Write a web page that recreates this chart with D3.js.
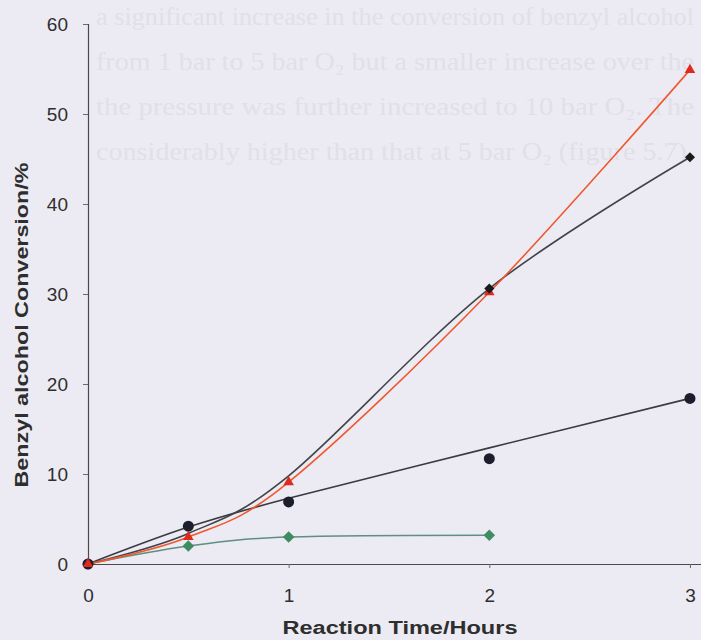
<!DOCTYPE html>
<html>
<head>
<meta charset="utf-8">
<script src="https://cdn.jsdelivr.net/npm/d3@7"></script>
<style>
  body { margin: 0; background: #ecebf3; }
  svg { display: block; }
</style>
</head>
<body>
<script>
// reaction time (hours)
const times = [0, 0.5, 1, 2, 3];
const timesShort = [0, 0.5, 1, 2];

// benzyl alcohol conversion (%)
const triangleSeries = [0, 3.0, 9.1, 30.2, 54.9];
const diamondSeries = [0, 3.4, 9.8, 30.6, 45.2];
const circleSeries = [0, 4.2, 6.9, 11.7, 18.4];
const circleTrend = [0, 4.1, 7.3, 12.9, 18.4];
const greenSeries = [0, 2.0, 3.0, 3.2];

const xTicks = [0, 1, 2, 3];
const yTicks = [0, 10, 20, 30, 40, 50, 60];

// faint text showing through from the scanned page
const ghostLines = [
  'a significant increase in the conversion of benzyl alcohol',
  'from 1 bar to 5 bar O\u2082 but a smaller increase over the',
  'the pressure was further increased to 10 bar O\u2082. The',
  'considerably higher than that at 5 bar O\u2082 (figure 5.7).'
];

const width = 701, height = 640;

const svg = d3.select('body').append('svg')
    .attr('width', width)
    .attr('height', height);

svg.append('rect')
    .attr('width', width)
    .attr('height', height)
    .attr('fill', '#ecebf3');

svg.selectAll('text.ghost')
    .data(ghostLines)
    .join('text')
    .attr('class', 'ghost')
    .attr('x', 96)
    .attr('y', (d, i) => 25 + i * 45)
    .attr('textLength', 598)
    .attr('lengthAdjust', 'spacingAndGlyphs')
    .attr('font-family', 'Liberation Serif, serif')
    .attr('font-size', 25)
    .attr('fill', '#e1dfe8')
    .text(d => d);

const x = d3.scaleLinear().domain([0, 3.06]).range([88, 702]);
const y = d3.scaleLinear().domain([0, 60]).range([564, 24]);

// axes
const xAxis = svg.append('g')
    .attr('transform', `translate(0, ${y(0)})`)
    .call(d3.axisBottom(x).tickValues(xTicks).tickSize(4).tickPadding(21).tickFormat(d3.format('d')));

const yAxis = svg.append('g')
    .attr('transform', `translate(${x(0)}, 0)`)
    .call(d3.axisLeft(y).tickValues(yTicks).tickSize(5).tickPadding(15).tickFormat(d3.format('d')));

[xAxis, yAxis].forEach(a => {
    a.select('.domain').attr('stroke', '#4a4a4a').attr('stroke-width', 1.2);
    a.selectAll('.tick line').attr('stroke', '#6a6a6a');
    a.selectAll('.tick text')
        .attr('fill', '#2e2e2e')
        .attr('font-family', 'Liberation Sans, Arial, sans-serif')
        .attr('font-size', 19);
});

svg.append('text')
    .attr('x', 400)
    .attr('y', 634)
    .attr('text-anchor', 'middle')
    .attr('textLength', 235)
    .attr('lengthAdjust', 'spacingAndGlyphs')
    .attr('font-family', 'Liberation Sans, Arial, sans-serif')
    .attr('font-weight', 'bold')
    .attr('font-size', 18)
    .attr('fill', '#2e2e2e')
    .text('Reaction Time/Hours');

svg.append('text')
    .attr('transform', 'translate(28, 325) rotate(-90)')
    .attr('text-anchor', 'middle')
    .attr('textLength', 325)
    .attr('lengthAdjust', 'spacingAndGlyphs')
    .attr('font-family', 'Liberation Sans, Arial, sans-serif')
    .attr('font-weight', 'bold')
    .attr('font-size', 19)
    .attr('fill', '#2e2e2e')
    .text('Benzyl alcohol Conversion/%');

// lines (Excel-style smoothing)
const smooth = d3.line()
    .x(d => x(d[0]))
    .y(d => y(d[1]))
    .curve(d3.curveCardinal.tension(0));

const pairs = (xs, ys) => xs.map((t, i) => [t, ys[i]]);

svg.append('path')
    .datum(pairs(timesShort, greenSeries))
    .attr('d', smooth)
    .attr('fill', 'none')
    .attr('stroke', '#5e8f80')
    .attr('stroke-width', 1.5);

svg.append('path')
    .datum(pairs(times, circleTrend))
    .attr('d', smooth)
    .attr('fill', 'none')
    .attr('stroke', '#3a3a42')
    .attr('stroke-width', 1.6);

svg.append('path')
    .datum(pairs(times, diamondSeries))
    .attr('d', smooth)
    .attr('fill', 'none')
    .attr('stroke', '#404448')
    .attr('stroke-width', 1.6);

svg.append('path')
    .datum(pairs(times, triangleSeries))
    .attr('d', smooth)
    .attr('fill', 'none')
    .attr('stroke', '#f0582e')
    .attr('stroke-width', 1.6);

// markers
svg.selectAll('path.green')
    .data(pairs(timesShort, greenSeries))
    .join('path')
    .attr('class', 'green')
    .attr('transform', d => `translate(${x(d[0])}, ${y(d[1])})`)
    .attr('d', d3.symbol(d3.symbolDiamond2, 85))
    .attr('fill', '#3f8c60');

svg.selectAll('circle.dot')
    .data(pairs(times, circleSeries))
    .join('circle')
    .attr('class', 'dot')
    .attr('cx', d => x(d[0]))
    .attr('cy', d => y(d[1]))
    .attr('r', 5.5)
    .attr('fill', '#1c1e2e');

svg.selectAll('path.tri')
    .data(pairs(times, triangleSeries))
    .join('path')
    .attr('class', 'tri')
    .attr('transform', d => `translate(${x(d[0])}, ${y(d[1])})`)
    .attr('d', d3.symbol(d3.symbolTriangle2, 80))
    .attr('fill', '#e02a1e');

svg.selectAll('path.dia')
    .data(pairs(times, diamondSeries).filter(d => d[0] >= 2))
    .join('path')
    .attr('class', 'dia')
    .attr('transform', d => `translate(${x(d[0])}, ${y(d[1])})`)
    .attr('d', d3.symbol(d3.symbolDiamond2, 65))
    .attr('fill', '#1a1a1a');
</script>
</body>
</html>
